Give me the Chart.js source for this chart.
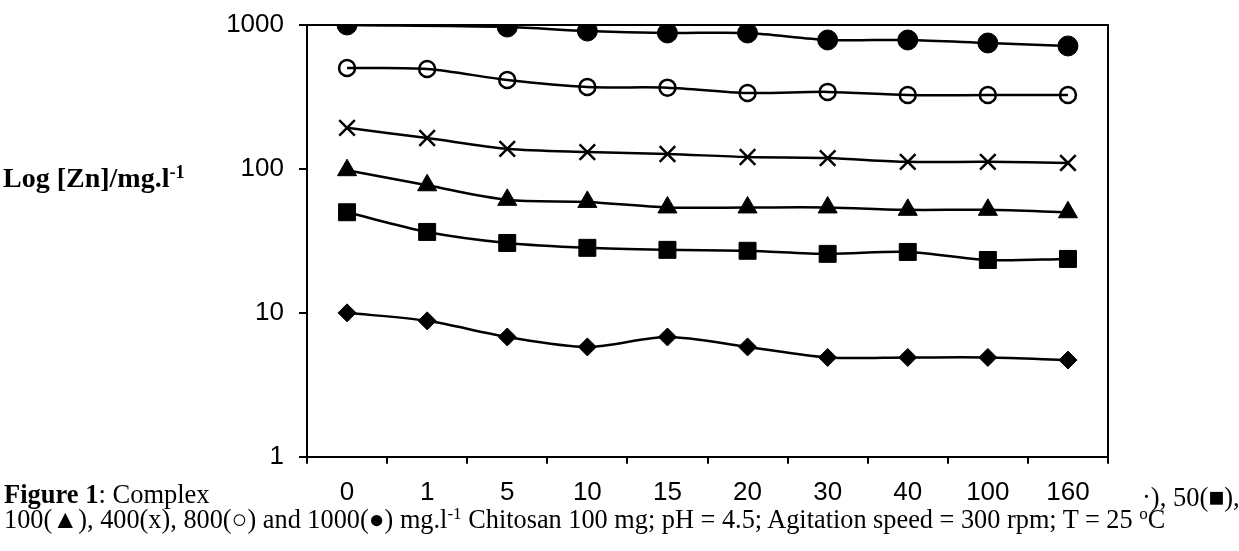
<!DOCTYPE html>
<html>
<head>
<meta charset="utf-8">
<script src="https://cdn.jsdelivr.net/npm/chart.js@4.4.0/dist/chart.umd.min.js"></script>
<style>
  html, body { margin: 0; padding: 0; background: #fff; }
  #wrap { position: relative; width: 1239px; height: 551px; overflow: hidden; }
  canvas { position: absolute; left: 0; top: 0; }
  .serif { position: absolute; font-family: "Liberation Serif", "Times New Roman", serif; color: #000; white-space: nowrap; line-height: 30px; }
  sup { font-size: 0.65em; vertical-align: 0.5em; line-height: 0; }
</style>
</head>
<body>
<div id="wrap">
  <canvas id="myChart" width="1239" height="551"></canvas>
  <div class="serif" style="left:3px; top:163px; font-size:28px; font-weight:bold;">Log [Zn]/mg.l<sup>-1</sup></div>
  <div class="serif" style="left:4px; top:479px; font-size:26.5px;"><b>Figure 1</b>: Complex</div>
  <div class="serif" style="left:1142px; top:482px; font-size:26.5px;">·), 50(■),</div>
  <div class="serif" style="left:4px; top:505px; font-size:26.3px;">100(▲), 400(x), 800(○) and 1000(●) mg.l<sup>-1</sup> Chitosan 100 mg; pH = 4.5; Agitation speed = 300 rpm; T = 25 <sup>o</sup>C</div>
</div>
<script>
// time labels (x axis categories)
const times = ['0', '1', '5', '10', '15', '20', '30', '40', '100', '160'];
const yTicks = [1, 10, 100, 1000];

// [Zn] remaining for each initial concentration
const zn10 = [10, 8.8, 6.8, 5.8, 6.8, 5.8, 4.9, 4.9, 4.9, 4.7];
const zn50 = [50, 36.5, 30.6, 28.3, 27.4, 27, 25.7, 26.5, 23.3, 23.7];
const zn100 = [98, 77, 61, 59, 54, 54, 54, 52, 52, 50];
const zn400 = [193, 164, 138, 131, 127, 121, 119, 112, 112, 110];
const zn800 = [503, 495, 415, 371, 367, 337, 343, 326, 326, 326];
const zn1000 = [1000, null, 968, 908, 880, 880, 787, 787, 750, 715];

const ink = '#000';

function series(values, style, radius, filled) {
  return {
    data: values,
    borderColor: ink,
    borderWidth: 2.5,
    tension: 0.3,
    spanGaps: true,
    pointStyle: style,
    pointRadius: radius,
    pointBackgroundColor: filled ? ink : 'rgba(0,0,0,0)',
    pointBorderColor: ink,
    pointBorderWidth: filled ? 1 : 2.5
  };
}

// box round the plot area (top and right sides)
const frame = {
  id: 'frame',
  beforeDatasetsDraw(chart) {
    const { ctx, chartArea: a } = chart;
    ctx.save();
    ctx.strokeStyle = ink;
    ctx.lineWidth = 2;
    ctx.beginPath();
    ctx.moveTo(a.left, a.top);
    ctx.lineTo(a.right, a.top);
    ctx.lineTo(a.right, a.bottom);
    ctx.stroke();
    ctx.restore();
  }
};

const data = {
  labels: times,
  datasets: [
    series(zn10, 'rectRot', 9, true),
    series(zn50, 'rect', 12, true),
    series(zn100, 'triangle', 11, true),
    series(zn400, 'crossRot', 11, false),
    series(zn800, 'circle', 8, false),
    series(zn1000, 'circle', 10, true)
  ]
};

const tickFont = { family: 'Liberation Sans, Arial, sans-serif', size: 26 };

const config = {
  type: 'line',
  data,
  options: {
    responsive: false,
    animation: false,
    devicePixelRatio: 1,
    layout: { padding: { top: 25, right: 131, bottom: 30, left: 0 } },
    plugins: { legend: { display: false }, tooltip: { enabled: false } },
    scales: {
      x: {
        type: 'category',
        offset: true,
        grid: { offset: true, drawOnChartArea: false, color: ink, tickLength: 7, lineWidth: 2 },
        border: { color: ink, width: 2 },
        ticks: { color: ink, font: tickFont, padding: 13, maxRotation: 0 }
      },
      y: {
        type: 'logarithmic',
        min: 1,
        max: 1000,
        afterBuildTicks: (scale) => { scale.ticks = yTicks.map(v => ({ value: v })); },
        afterFit: (scale) => { scale.width = 307; scale.paddingTop = 0; scale.paddingBottom = 0; },
        grid: { drawOnChartArea: false, color: ink, tickLength: 8, lineWidth: 2 },
        border: { color: ink, width: 2 },
        ticks: { color: ink, font: tickFont, padding: 15, callback: (v) => String(v) }
      }
    }
  },
  plugins: [frame]
};

const myChart = new Chart(document.getElementById('myChart'), config);
</script>
</body>
</html>
